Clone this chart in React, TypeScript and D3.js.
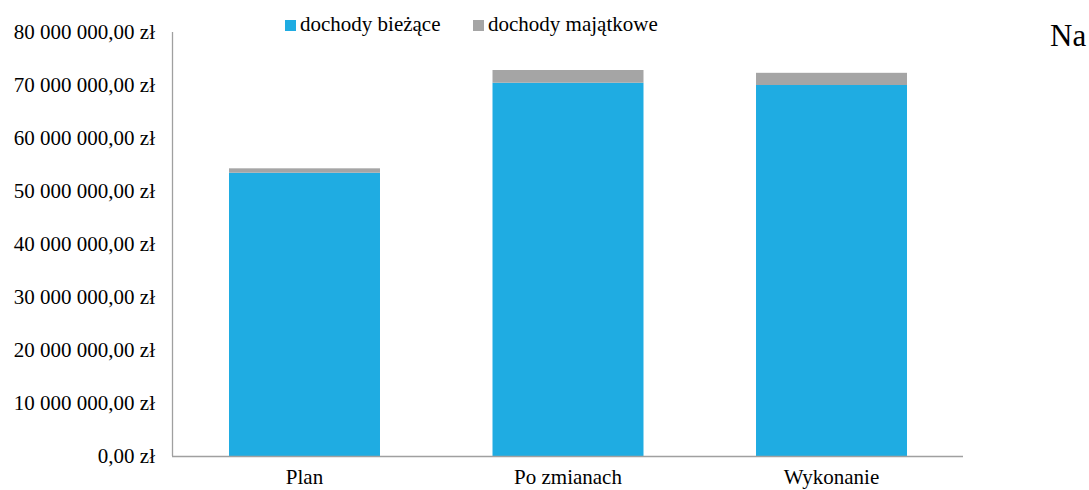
import * as React from 'react';
import * as d3 from 'd3';

const categories = ['Plan', 'Po zmianach', 'Wykonanie'];
const biezace = [53450000, 70430000, 70000000];
const majatkowe = [830000, 2400000, 2300000];
const seriesNames = ['dochody bieżące', 'dochody majątkowe'];
const yTicks = [0, 10000000, 20000000, 30000000, 40000000, 50000000, 60000000, 70000000, 80000000];

const colors = ['#1FACE2', '#A5A5A5'];

const fmt = (v: number) => {
  const parts = d3.format(',.2f')(v).split('.');
  return parts[0].replace(/,/g, ' ') + ',' + parts[1] + ' zł';
};

export default function App() {
  const ref = React.useRef<SVGSVGElement>(null);

  React.useEffect(() => {
    const W = 1089, H = 490;
    const left = 173, right = 963, top = 32, bottom = 456;
    const svg = d3.select(ref.current);
    svg.selectAll('*').remove();
    svg.attr('width', W).attr('height', H);

    const x = d3.scaleBand().domain(categories).range([left, right]).paddingInner(0.427).paddingOuter(0.2125);
    const y = d3.scaleLinear().domain([0, 80000000]).range([bottom, top]);

    const font = "'Liberation Serif', 'Times New Roman', serif";

    // bars
    const data = categories.map((c, i) => ({ c, a: biezace[i], b: majatkowe[i] }));
    const g = svg.append('g');
    g.selectAll('rect.a').data(data).enter().append('rect')
      .attr('x', d => x(d.c)!)
      .attr('width', x.bandwidth())
      .attr('y', d => y(d.a))
      .attr('height', d => y(0) - y(d.a))
      .attr('fill', colors[0]);
    g.selectAll('rect.b').data(data).enter().append('rect')
      .attr('x', d => x(d.c)!)
      .attr('width', x.bandwidth())
      .attr('y', d => y(d.a + d.b))
      .attr('height', d => y(d.a) - y(d.a + d.b))
      .attr('fill', colors[1]);

    // axes lines
    svg.append('line').attr('x1', left - 0.5).attr('x2', left - 0.5).attr('y1', top).attr('y2', bottom)
      .attr('stroke', '#A0A0A0').attr('stroke-width', 1.3);
    svg.append('line').attr('x1', left - 1).attr('x2', right).attr('y1', bottom + 0.5).attr('y2', bottom + 0.5)
      .attr('stroke', '#A0A0A0').attr('stroke-width', 1.5);

    // y tick labels
    svg.selectAll('text.yt').data(yTicks).enter().append('text')
      .attr('x', 155)
      .attr('y', d => y(d))
      .attr('dy', '0.35em')
      .attr('text-anchor', 'end')
      .attr('font-family', font)
      .attr('font-size', 21)
      .attr('fill', '#000')
      .text(d => fmt(d));

    // x labels
    svg.selectAll('text.xt').data(categories).enter().append('text')
      .attr('x', d => x(d)! + x.bandwidth() / 2)
      .attr('y', 484)
      .attr('text-anchor', 'middle')
      .attr('font-family', font)
      .attr('font-size', 21)
      .attr('fill', '#000')
      .text(d => d);

    // legend
    const lx = [285, 473];
    seriesNames.forEach((n, i) => {
      svg.append('rect').attr('x', lx[i]).attr('y', 20).attr('width', 11).attr('height', 11).attr('fill', colors[i]);
      svg.append('text').attr('x', lx[i] + 15).attr('y', 31)
        .attr('font-family', font).attr('font-size', 21).attr('fill', '#000').text(n);
    });

    svg.append('text').attr('x', 1050).attr('y', 46)
      .attr('font-family', font).attr('font-size', 31).attr('fill', '#000').text('Na');
  }, []);

  return <svg ref={ref} style={{ position: 'absolute', left: 0, top: 0, background: '#fff' }} />;
}
